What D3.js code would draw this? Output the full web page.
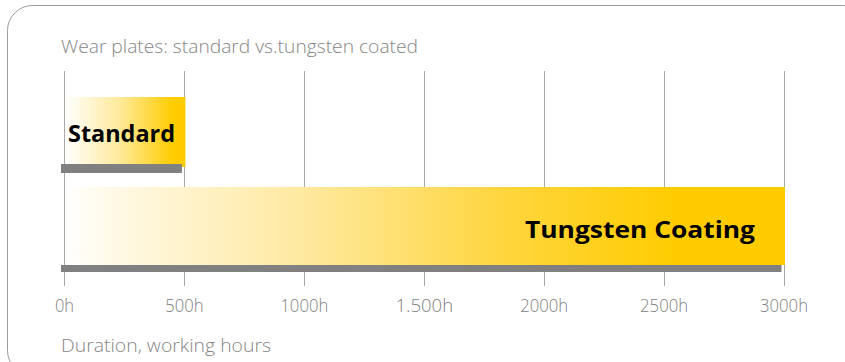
<!DOCTYPE html>
<html><head><meta charset="utf-8">
<script src="https://cdn.jsdelivr.net/npm/d3@7"></script>
<style>html,body{margin:0;padding:0;background:#fff;}svg{display:block;}</style>
</head><body>
<script>
const categories = ["Standard", "Tungsten Coating"];
const hours = [500, 3000];
const tickValues = [0, 500, 1000, 1500, 2000, 2500, 3000];
const tickLabels = ["0h", "500h", "1000h", "1.500h", "2000h", "2500h", "3000h"];
const title = "Wear plates: standard vs.tungsten coated";
const axisTitle = "Duration, working hours";

const W = 845, H = 362;
const svg = d3.select("body").append("svg").attr("width", W).attr("height", H);

const x = d3.scaleLinear().domain([0, 3000]).range([64, 783.5]);
const y = d3.scaleOrdinal().domain(categories).range([[97, 70], [187, 78]]);

const defs = svg.append("defs");
const grads = [
  {id: "g0", stops: [[0, "#FFFFFF"], [0.45, "#FFEA9C"], [0.9, "#FFCC00"]]},
  {id: "g1", stops: [[0, "#FFFFFF"], [0.05, "#FFFAEB"], [0.33, "#FFE9A0"], [0.62, "#FFD53A"], [0.85, "#FFCC00"]]}
];
grads.forEach(g => {
  const lg = defs.append("linearGradient").attr("id", g.id).attr("x1", 0).attr("x2", 1).attr("y1", 0).attr("y2", 0);
  g.stops.forEach(s => lg.append("stop").attr("offset", s[0]).attr("stop-color", s[1]));
});

// frame
svg.append("rect").attr("x", 7.5).attr("y", 5.5).attr("width", 860).attr("height", 370)
  .attr("rx", 25).attr("fill", "none").attr("stroke", "#9a9a9a").attr("stroke-width", 1);

// title
svg.append("text").attr("x", 61).attr("y", 53).text(title)
  .attr("font-family", "'Open Sans', sans-serif").attr("font-weight", 300).attr("font-size", 18.5)
  .attr("fill", "#858585").attr("textLength", 357).attr("lengthAdjust", "spacingAndGlyphs");

// gridlines
svg.append("g").selectAll("line").data(tickValues).join("line")
  .attr("x1", d => Math.round(x(d)) + 0.5).attr("x2", d => Math.round(x(d)) + 0.5)
  .attr("y1", 71).attr("y2", 286).attr("stroke", "#a8a8a8").attr("stroke-width", 1);

// bars
const bars = svg.append("g");
categories.forEach((c, i) => {
  const [top, h] = y(c);
  bars.append("rect").attr("x", x(0) + 1).attr("y", top).attr("width", x(hours[i]) - x(0) + 0.5)
    .attr("height", h).attr("fill", `url(#g${i})`);
  bars.append("rect").attr("x", x(0) - 3).attr("y", top + h - (i === 0 ? 3 : 0))
    .attr("width", x(hours[i]) - 2 - (x(0) - 3)).attr("height", i === 0 ? 9 : 7).attr("fill", "#808080");
});

// bar labels
svg.append("text").attr("x", 68).attr("y", 142).text(categories[0])
  .attr("font-family", "'Open Sans', sans-serif").attr("font-weight", 700).attr("font-size", 24)
  .attr("fill", "#000").attr("textLength", 107).attr("lengthAdjust", "spacingAndGlyphs");
svg.append("text").attr("x", 525).attr("y", 238).text(categories[1])
  .attr("font-family", "'Open Sans', sans-serif").attr("font-weight", 700).attr("font-size", 24)
  .attr("fill", "#000").attr("textLength", 230).attr("lengthAdjust", "spacingAndGlyphs");

// axis
const axis = d3.axisBottom(x).tickValues(tickValues).tickFormat((d, i) => tickLabels[i]).tickSize(0).tickPadding(0);
const ag = svg.append("g").attr("transform", "translate(0,312)").call(axis);
ag.select(".domain").remove();
ag.selectAll("text").attr("dy", 0).attr("y", 0)
  .attr("font-family", "'Open Sans', sans-serif").attr("font-weight", 300).attr("font-size", 19)
  .attr("fill", "#808080")
  .each(function(d, i) {
    const n = tickLabels[i].length;
    d3.select(this).attr("textLength", n * 9.6).attr("lengthAdjust", "spacingAndGlyphs");
  });

svg.append("text").attr("x", 61).attr("y", 352).text(axisTitle)
  .attr("font-family", "'Open Sans', sans-serif").attr("font-weight", 300).attr("font-size", 18.5)
  .attr("fill", "#858585").attr("textLength", 210).attr("lengthAdjust", "spacingAndGlyphs");
</script>
</body></html>
